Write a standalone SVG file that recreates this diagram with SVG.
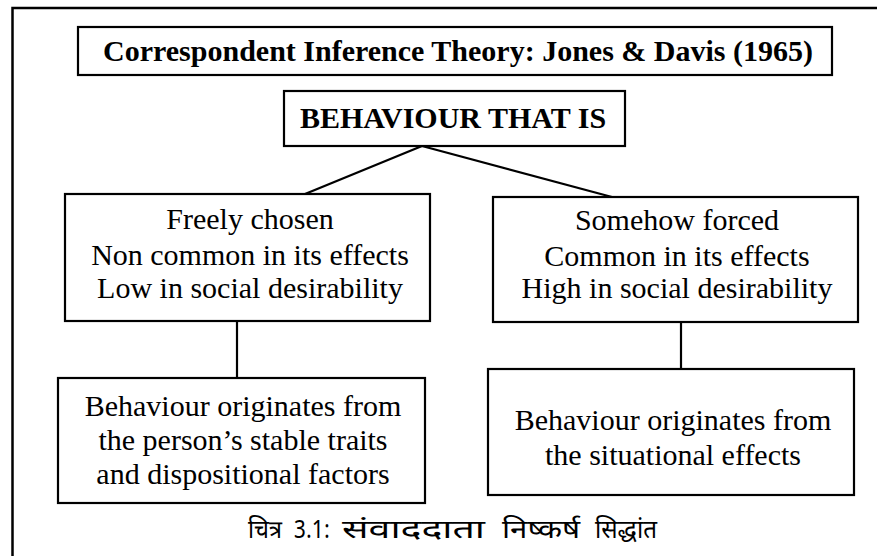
<svg xmlns="http://www.w3.org/2000/svg" width="877" height="556" viewBox="0 0 877 556">
<style>
.box{fill:#fff;stroke:#000;stroke-width:2.2}
.frame{stroke:#000;stroke-width:2.5;fill:none}
.conn{stroke:#000;stroke-width:2.2;fill:none}
.t{font-family:'Liberation Serif','Times New Roman',serif;font-size:30px;fill:#000;text-anchor:middle}
.b{font-weight:bold}
.cap{font-family:'Noto Sans Devanagari','Lohit Devanagari','Noto Sans',sans-serif;font-size:25px;fill:#000}
</style>
<rect width="877" height="556" fill="#fff"/>
<g id="frame">
<path class="frame" d="M12.5,556 V8 H877"/>
</g>
<g id="connectors">
<line class="conn" x1="422" y1="146" x2="305" y2="194"/>
<line class="conn" x1="422" y1="146" x2="612" y2="197"/>
<line class="conn" x1="237" y1="321" x2="237" y2="378"/>
<line class="conn" x1="681" y1="322" x2="681" y2="369"/>
</g>
<g id="title">
<rect class="box" x="78" y="27" width="754" height="48"/>
<text class="t b" x="458" y="61">Correspondent Inference Theory: Jones &amp; Davis (1965)</text>
</g>
<g id="behaviour">
<rect class="box" x="284" y="91" width="341" height="55"/>
<text class="t b" x="453" y="128">BEHAVIOUR THAT IS</text>
</g>
<g id="freely">
<rect class="box" x="65" y="194" width="365" height="127"/>
<text class="t" x="250" y="229">Freely chosen</text>
<text class="t" x="250" y="265">Non common in its effects</text>
<text class="t" x="250" y="298">Low in social desirability</text>
</g>
<g id="forced">
<rect class="box" x="493" y="197" width="365" height="125"/>
<text class="t" x="677" y="230">Somehow forced</text>
<text class="t" x="677" y="266">Common in its effects</text>
<text class="t" x="677" y="298">High in social desirability</text>
</g>
<g id="dispositional">
<rect class="box" x="58" y="378" width="367" height="125"/>
<text class="t" x="243" y="416">Behaviour originates from</text>
<text class="t" x="243" y="450">the person’s stable traits</text>
<text class="t" x="243" y="484">and dispositional factors</text>
</g>
<g id="situational">
<rect class="box" x="488" y="369" width="366" height="126"/>
<text class="t" x="673" y="430">Behaviour originates from</text>
<text class="t" x="673" y="465">the situational effects</text>
</g>
<g id="caption">
<text class="cap" x="248" y="538" textLength="34" lengthAdjust="spacingAndGlyphs">चित्र</text>
<text class="cap" x="294" y="538" textLength="36" lengthAdjust="spacingAndGlyphs">3.1:</text>
<text class="cap" x="342" y="538" textLength="143" lengthAdjust="spacingAndGlyphs">संवाददाता</text>
<text class="cap" x="502" y="538" textLength="78" lengthAdjust="spacingAndGlyphs">निष्कर्ष</text>
<text class="cap" x="595" y="538" textLength="62" lengthAdjust="spacingAndGlyphs">सिद्धांत</text>
</g>
</svg>
